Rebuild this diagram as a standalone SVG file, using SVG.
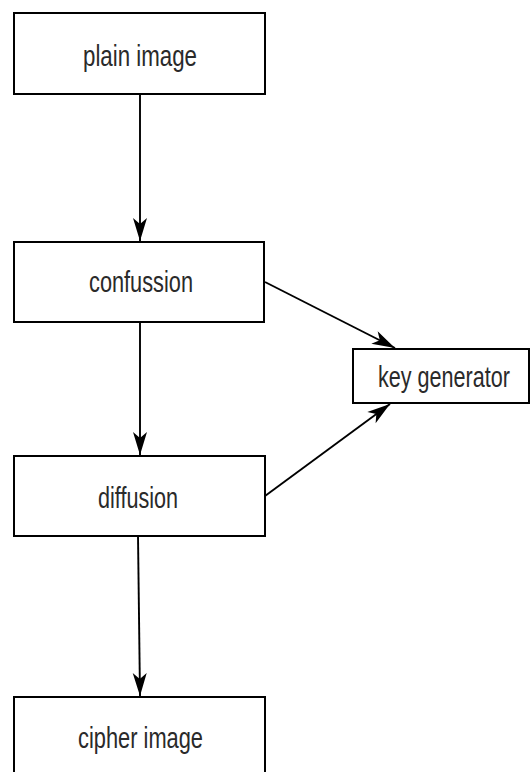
<svg xmlns="http://www.w3.org/2000/svg" width="532" height="772" viewBox="0 0 532 772">
  <style>
    .box { fill: #ffffff; stroke: #000000; stroke-width: 2; }
    .label { font-family: "Liberation Sans Narrow", "Liberation Sans", Arial, sans-serif; font-size: 29px; fill: #2a2a2a; text-anchor: middle; }
    .edge { fill: none; stroke: #000000; stroke-width: 1.9; marker-end: url(#arrow); }
  </style>
  <defs>
    <marker id="arrow" markerUnits="userSpaceOnUse" markerWidth="26" markerHeight="18" viewBox="-24 -9 26 18" refX="0" refY="0" orient="auto">
      <path d="M0,0 L-23,-7 L-17,0 L-23,7 Z" fill="#000000"/>
    </marker>
  </defs>

  <rect width="532" height="772" fill="#ffffff"/>

  <!-- connectors -->
  <g id="connectors">
    <line class="edge" x1="140" y1="94" x2="140" y2="241"/>
    <line class="edge" x1="140" y1="322" x2="140" y2="455"/>
    <line class="edge" x1="138" y1="536" x2="140" y2="696"/>
    <line class="edge" x1="265" y1="282" x2="395" y2="348"/>
    <line class="edge" x1="265" y1="496" x2="390" y2="404"/>
  </g>

  <!-- nodes -->
  <g id="plain-image">
    <rect class="box" x="14" y="13" width="251" height="81"/>
    <text class="label" x="140" y="66" textLength="114" lengthAdjust="spacingAndGlyphs">plain image</text>
  </g>
  <g id="confussion">
    <rect class="box" x="14" y="242" width="250" height="80"/>
    <text class="label" x="141" y="292" textLength="104" lengthAdjust="spacingAndGlyphs">confussion</text>
  </g>
  <g id="key-generator">
    <rect class="box" x="353" y="349" width="176" height="54"/>
    <text class="label" x="444" y="387" textLength="132" lengthAdjust="spacingAndGlyphs">key generator</text>
  </g>
  <g id="diffusion">
    <rect class="box" x="14" y="456" width="251" height="80"/>
    <text class="label" x="138" y="508" textLength="80" lengthAdjust="spacingAndGlyphs">diffusion</text>
  </g>
  <g id="cipher-image">
    <rect class="box" x="14" y="697" width="251" height="80"/>
    <text class="label" x="140.5" y="748" textLength="125" lengthAdjust="spacingAndGlyphs">cipher image</text>
  </g>
</svg>
